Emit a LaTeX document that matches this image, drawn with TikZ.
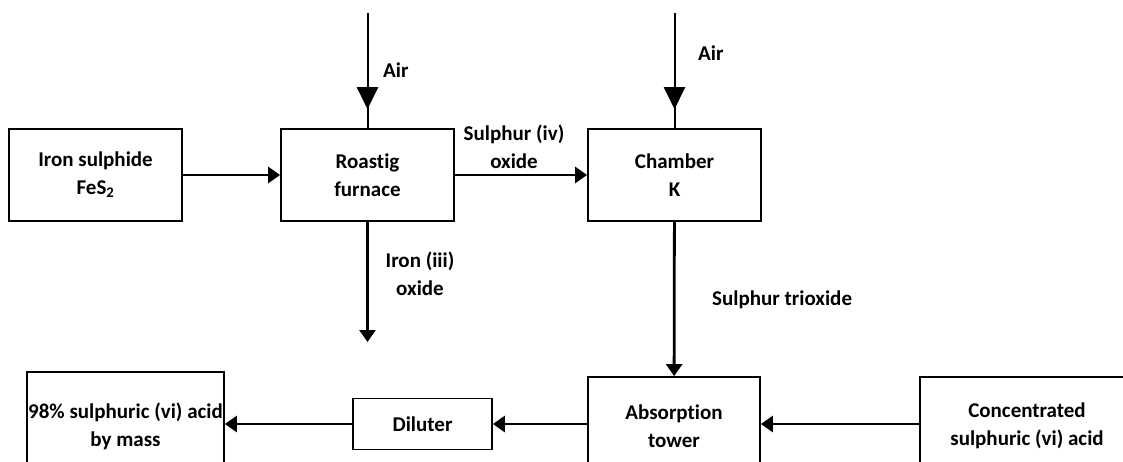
\documentclass[tikz,border=0pt]{standalone}
\usepackage{fontspec}
\setmainfont{Carlito}[Ligatures=NoCommon]
\usetikzlibrary{positioning, arrows.meta, decorations.markings}
\tikzset{
  unit/.style={draw, line width=1.8pt, align=center, font=\fontsize{21}{28}\selectfont\bfseries, inner sep=0pt},
  tag/.style={align=center, font=\fontsize{21}{28}\selectfont\bfseries, inner sep=0pt},
  flow/.style={-{Triangle[length=12pt, width=16pt]}, line width=2.8pt},
  feed/.style={line width=2pt, postaction={decorate},
    decoration={markings, mark=at position 0.836 with {\arrow{Triangle[length=22pt, width=21pt]}}}},
}

\begin{document}
\begin{tikzpicture}[x=1pt, y=-1pt]
  \useasboundingbox (0,0) rectangle (1123,461);
  \clip (0,0) rectangle (1123,461);
  \node[unit, minimum width=173pt, minimum height=92pt] (ore) at (95.5,175) {Iron sulphide\\FeS\textsubscript{2}};
  \node[unit, minimum width=173pt, minimum height=92pt] (furnace) at (367.5,175) {Roastig\\furnace};
  \node[unit, minimum width=173pt, minimum height=92pt] (chamber) at (674.5,175) {Chamber\\K};
  \node[unit, minimum width=197pt, minimum height=108pt] (product) at (125.5,426) {98\% sulphuric (vi) acid\\by mass};
  \node[unit, minimum width=139pt, minimum height=51pt] (diluter) at (422.5,424) {Diluter};
  \node[unit, minimum width=172pt, minimum height=98pt] (tower) at (674,426) {Absorption\\tower};
  \node[unit, minimum width=214pt, minimum height=98pt] (acid) at (1027,426) {Concentrated\\sulphuric (vi) acid};
  \coordinate (air1) at (367.5,13);
  \coordinate (air2) at (674.5,13);
  \coordinate (waste) at (367.5,342);
  \draw[feed] (air1) -- (furnace.north);
  \draw[feed] (air2) -- (chamber.north);
  \foreach \a/\b in {ore/furnace, furnace/chamber, chamber/tower, furnace/waste} \draw[flow] (\a) -- (\b);
  \foreach \a/\b in {acid/tower, tower/diluter, diluter/product} \draw[flow] (\a.west |- diluter) -- (\b.east |- diluter);
  \node[tag, anchor=west] (air1lbl) at (383,70) {Air};
  \node[tag, anchor=west] (air2lbl) at (698,53) {Air};
  \node[tag] (so2lbl) at (514,147) {Sulphur (iv)\\oxide};
  \node[tag] (fe2o3lbl) at (420,274) {Iron (iii)\\oxide};
  \node[tag, anchor=west] (so3lbl) at (712,300) {Sulphur trioxide};
\end{tikzpicture}
\end{document}
